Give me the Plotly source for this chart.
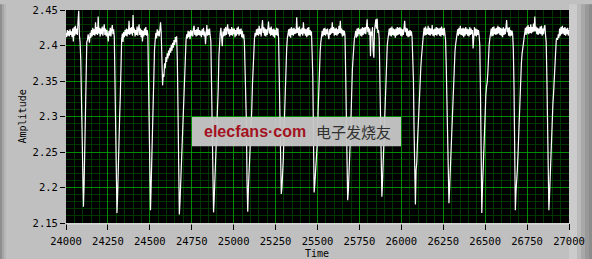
import plotly.graph_objects as go

# ---- waveform: start time, sample spacing, amplitude samples ----
t0 = 24000
dt = 4
amplitude = [
    # 24000-24080
    2.418, 2.412, 2.422, 2.414, 2.421, 2.413, 2.423, 2.415, 2.420, 2.412, 2.424, 2.406, 2.426, 2.414, 2.428,
    2.416, 2.424, 2.415, 2.435, 2.449, 2.414,
    # 24084-24124 dip 1
    2.405, 2.380, 2.330, 2.262, 2.218, 2.173, 2.205, 2.258, 2.310, 2.372, 2.405,
    # 24128-24288
    2.408, 2.416, 2.410, 2.404, 2.418, 2.411, 2.422, 2.413, 2.425, 2.415, 2.423, 2.414, 2.433, 2.416, 2.426,
    2.415, 2.441, 2.417, 2.425, 2.413, 2.424, 2.416, 2.427, 2.414, 2.423, 2.430, 2.415, 2.424, 2.413, 2.422,
    2.415, 2.406, 2.421, 2.414, 2.425, 2.413, 2.422, 2.429, 2.416, 2.423, 2.412,
    # 24292-24332 dip 2
    2.345, 2.273, 2.215, 2.164, 2.190, 2.240, 2.273, 2.300, 2.330, 2.387, 2.409,
    # 24336-24488
    2.417, 2.405, 2.419, 2.412, 2.422, 2.414, 2.424, 2.413, 2.423, 2.416, 2.435, 2.415, 2.425, 2.417, 2.426,
    2.414, 2.443, 2.418, 2.424, 2.413, 2.422, 2.415, 2.427, 2.414, 2.423, 2.430, 2.415, 2.424, 2.412, 2.422,
    2.406, 2.421, 2.413, 2.424, 2.415, 2.426, 2.414, 2.422, 2.416,
    # 24492-24532 dip 3
    2.360, 2.318, 2.240, 2.168, 2.205, 2.250, 2.290, 2.328, 2.368, 2.395, 2.408,
    # 24536-24568
    2.418, 2.410, 2.423, 2.414, 2.421, 2.413, 2.428, 2.433, 2.417,
    # 24572-24660 partial dip and ramp
    2.380, 2.344, 2.360, 2.356, 2.375, 2.368, 2.384, 2.377, 2.389, 2.382, 2.393, 2.386, 2.397, 2.390, 2.401,
    2.393, 2.404, 2.397, 2.408, 2.401, 2.412, 2.405, 2.413,
    # 24664-24716 dip 4
    2.380, 2.310, 2.240, 2.162, 2.180, 2.205, 2.230, 2.265, 2.295, 2.318, 2.350, 2.375, 2.396, 2.408,
    # 24720-24860
    2.416, 2.410, 2.421, 2.412, 2.420, 2.409, 2.422, 2.414, 2.421, 2.413, 2.424, 2.428, 2.415, 2.422, 2.413,
    2.423, 2.414, 2.426, 2.415, 2.422, 2.414, 2.421, 2.412, 2.423, 2.415, 2.425, 2.413, 2.420, 2.402, 2.421,
    2.429, 2.414, 2.423, 2.415, 2.424, 2.414,
    # 24864-24916 dip 5
    2.406, 2.345, 2.280, 2.215, 2.165, 2.185, 2.210, 2.232, 2.255, 2.280, 2.312, 2.340, 2.385, 2.408,
    # 24920-25060
    2.418, 2.425, 2.415, 2.399, 2.420, 2.413, 2.424, 2.414, 2.426, 2.415, 2.423, 2.430, 2.416, 2.424, 2.413,
    2.423, 2.415, 2.426, 2.414, 2.424, 2.416, 2.424, 2.412, 2.422, 2.414, 2.425, 2.416, 2.427, 2.414, 2.423,
    2.416, 2.424, 2.412, 2.421, 2.410, 2.416,
    # 25064-25124 dip 6
    2.405, 2.365, 2.322, 2.290, 2.205, 2.166, 2.200, 2.222, 2.237, 2.255, 2.275, 2.310, 2.345, 2.378, 2.398,
    2.410,
    # 25128-25268
    2.418, 2.413, 2.423, 2.415, 2.424, 2.414, 2.428, 2.416, 2.424, 2.413, 2.425, 2.436, 2.418, 2.426, 2.414,
    2.424, 2.413, 2.423, 2.415, 2.426, 2.434, 2.417, 2.425, 2.414, 2.427, 2.415, 2.423, 2.413, 2.424, 2.411,
    2.422, 2.415, 2.425, 2.414, 2.424, 2.410,
    # 25272-25320 dip 7
    2.350, 2.300, 2.235, 2.191, 2.200, 2.218, 2.240, 2.275, 2.310, 2.345, 2.372, 2.395, 2.410,
    # 25324-25464
    2.416, 2.423, 2.413, 2.424, 2.411, 2.426, 2.415, 2.424, 2.414, 2.425, 2.416, 2.423, 2.417, 2.440, 2.418,
    2.425, 2.414, 2.427, 2.413, 2.423, 2.416, 2.425, 2.414, 2.433, 2.417, 2.424, 2.414, 2.423, 2.412, 2.425,
    2.414, 2.426, 2.415, 2.422, 2.414, 2.420,
    # 25468-25520 dip 8
    2.390, 2.355, 2.270, 2.193, 2.205, 2.218, 2.232, 2.245, 2.268, 2.310, 2.345, 2.372, 2.392, 2.405,
    # 25524-25664
    2.414, 2.421, 2.413, 2.424, 2.415, 2.425, 2.414, 2.423, 2.416, 2.424, 2.414, 2.409, 2.423, 2.415, 2.425,
    2.417, 2.433, 2.418, 2.426, 2.414, 2.424, 2.415, 2.425, 2.414, 2.423, 2.416, 2.428, 2.418, 2.435, 2.417,
    2.424, 2.413, 2.422, 2.414, 2.421, 2.415,
    # 25668-25720 dip 9
    2.360, 2.300, 2.240, 2.182, 2.195, 2.215, 2.237, 2.270, 2.300, 2.345, 2.366, 2.382, 2.400, 2.410,
    # 25724-25864
    2.414, 2.421, 2.411, 2.424, 2.413, 2.425, 2.416, 2.423, 2.414, 2.424, 2.413, 2.426, 2.415, 2.425, 2.417,
    2.426, 2.416, 2.428, 2.437, 2.419, 2.426, 2.415, 2.424, 2.385, 2.420, 2.414, 2.426, 2.392, 2.383, 2.421,
    2.428, 2.437, 2.424, 2.438, 2.418, 2.422,
    # 25868-25920 dip 10
    2.410, 2.360, 2.300, 2.240, 2.187, 2.210, 2.238, 2.270, 2.305, 2.332, 2.360, 2.385, 2.400, 2.409,
    # 25924-26060
    2.416, 2.424, 2.414, 2.425, 2.413, 2.427, 2.415, 2.424, 2.414, 2.423, 2.411, 2.424, 2.414, 2.426, 2.415,
    2.425, 2.416, 2.426, 2.414, 2.424, 2.413, 2.423, 2.415, 2.426, 2.435, 2.419, 2.425, 2.414, 2.424, 2.412,
    2.421, 2.413, 2.422, 2.414, 2.420,
    # 26064-26128 dip 11
    2.412, 2.385, 2.353, 2.280, 2.214, 2.176, 2.225, 2.235, 2.262, 2.285, 2.310, 2.340, 2.355, 2.368, 2.383,
    2.400, 2.410,
    # 26132-26260
    2.417, 2.425, 2.414, 2.427, 2.415, 2.424, 2.416, 2.428, 2.415, 2.425, 2.414, 2.424, 2.416, 2.429, 2.414,
    2.423, 2.413, 2.424, 2.415, 2.426, 2.414, 2.425, 2.416, 2.424, 2.414, 2.425, 2.413, 2.427, 2.415, 2.424,
    2.414, 2.425, 2.416,
    # 26264-26328 dip 12
    2.408, 2.370, 2.310, 2.265, 2.220, 2.178, 2.200, 2.225, 2.255, 2.280, 2.291, 2.330, 2.360, 2.378, 2.392,
    2.402, 2.410,
    # 26332-26464
    2.415, 2.423, 2.414, 2.425, 2.416, 2.428, 2.415, 2.424, 2.414, 2.425, 2.412, 2.424, 2.414, 2.426, 2.416,
    2.424, 2.414, 2.423, 2.413, 2.426, 2.415, 2.424, 2.416, 2.422, 2.396, 2.418, 2.426, 2.414, 2.424, 2.413,
    2.423, 2.415, 2.422, 2.414,
    # 26468-26528 dip 13
    2.400, 2.335, 2.264, 2.164, 2.200, 2.232, 2.258, 2.287, 2.310, 2.330, 2.342, 2.348, 2.362, 2.388, 2.402,
    2.410,
    # 26532-26664
    2.416, 2.424, 2.413, 2.426, 2.414, 2.427, 2.416, 2.424, 2.415, 2.425, 2.416, 2.428, 2.417, 2.426, 2.415,
    2.425, 2.414, 2.424, 2.412, 2.426, 2.415, 2.424, 2.416, 2.428, 2.436, 2.419, 2.425, 2.414, 2.426, 2.413,
    2.422, 2.414, 2.421, 2.416,
    # 26668-26732 dip 14
    2.395, 2.342, 2.270, 2.168, 2.195, 2.207, 2.225, 2.248, 2.275, 2.310, 2.342, 2.362, 2.375, 2.388, 2.398,
    2.406, 2.411,
    # 26736-26860
    2.418, 2.425, 2.415, 2.427, 2.417, 2.429, 2.416, 2.426, 2.418, 2.430, 2.417, 2.426, 2.419, 2.431, 2.420,
    2.441, 2.420, 2.427, 2.416, 2.425, 2.415, 2.424, 2.417, 2.427, 2.416, 2.428, 2.414, 2.424, 2.416, 2.425,
    2.429, 2.415,
    # 26864-26928 dip 15
    2.405, 2.355, 2.300, 2.220, 2.168, 2.190, 2.220, 2.250, 2.275, 2.296, 2.318, 2.333, 2.352, 2.380, 2.400,
    2.408, 2.411,
    # 26932-27000
    2.408, 2.416, 2.411, 2.424, 2.414, 2.426, 2.416, 2.428, 2.417, 2.425, 2.415, 2.426, 2.414, 2.424, 2.416,
    2.425, 2.414, 2.422,
]

x_tick_values = [24000, 24250, 24500, 24750, 25000, 25250, 25500, 25750, 26000, 26250, 26500, 26750, 27000]
x_tick_labels = ["24000", "24250", "24500", "24750", "25000", "25250", "25500", "25750",
                 "26000", "26250", "26500", "26750", "27000"]
y_tick_values = [2.15, 2.2, 2.25, 2.3, 2.35, 2.4, 2.45]
y_tick_labels = ["2.15", "2.2", "2.25", "2.3", "2.35", "2.4", "2.45"]
x_title = "Time"
y_title = "Amplitude"

# ---- figure geometry ----
W, H = 592, 259
L, R, T, B = 66, 23, 4, 36
PW, PH = W - L - R, H - T - B


def px(xp):
    return (xp - L) / PW


def py(yp):
    return (H - B - yp) / PH


MONO = "DejaVu Sans Mono"

fig = go.Figure()
fig.add_trace(go.Scatter(y=amplitude, x0=t0, dx=dt, mode="lines",
                         line=dict(color="#ffffff", width=1.2), hoverinfo="skip"))

shapes = []
# panel edge shading
for x0, x1, c in [(0, 2, "#8e8e8e"), (2, 4, "#a6a6a6"), (4, 6, "#b6b6b6"),
                  (569, 577, "#cbcbcb"), (577, 581, "#b9b9b9"), (581, 585, "#a8a8a8"),
                  (585, 589, "#999999"), (589, 592, "#8c8c8c")]:
    shapes.append(dict(type="rect", xref="paper", yref="paper", x0=px(x0), x1=px(x1),
                       y0=py(H + 2), y1=py(-2), fillcolor=c, line=dict(width=0), layer="below"))
# thin light frame line under the plot area
shapes.append(dict(type="line", xref="paper", yref="paper", x0=0, x1=1, y0=py(H - B + 1), y1=py(H - B + 1),
                   line=dict(color="#e4e4e4", width=1), layer="above"))
# watermark box
shapes.append(dict(type="rect", xref="paper", yref="paper", x0=px(192), x1=px(401),
                   y0=py(144), y1=py(114), fillcolor="rgba(198,198,198,0.96)",
                   line=dict(width=0), layer="above"))

annotations = [
    dict(text="<b>elecfans·com</b>", xref="paper", yref="paper", x=px(255), y=py(129),
         showarrow=False, font=dict(family="Liberation Sans", size=16, color="#a3121e"),
         xanchor="center", yanchor="middle"),
    dict(text="电子发烧友", xref="paper", yref="paper", x=px(353), y=py(129),
         showarrow=False, font=dict(family="Noto Sans CJK SC", size=15, color="#303030"),
         xanchor="center", yanchor="middle"),
    # axis titles
    dict(text=x_title, xref="paper", yref="paper", x=px(317), y=py(254.5),
         showarrow=False, font=dict(family=MONO, size=10, color="#000000"),
         xanchor="center", yanchor="middle"),
    dict(text=y_title, xref="paper", yref="paper", x=px(22.5), y=py(114), textangle=-90,
         showarrow=False, font=dict(family=MONO, size=10, color="#000000"),
         xanchor="center", yanchor="middle"),
]

fig.update_layout(
    width=W, height=H,
    margin=dict(l=L, r=R, t=T, b=B, pad=0),
    paper_bgcolor="#c0c0c0", plot_bgcolor="#000000",
    showlegend=False,
    shapes=shapes, annotations=annotations,
    font=dict(family=MONO, color="#000000", size=10),
)
fig.update_xaxes(
    range=[24000, 27000], tickvals=x_tick_values, ticktext=x_tick_labels,
    ticks="outside", ticklen=6, tickcolor="#000000", tickwidth=1, ticklabelstandoff=2,
    tickfont=dict(family=MONO, size=10.5, color="#000000"), ticklabeloverflow="allow",
    showgrid=True, gridcolor="#008c00", gridwidth=1, zeroline=False,
    minor=dict(dtick=50, tick0=24000, showgrid=True, gridcolor="#003600", gridwidth=1, ticks=""),
    showline=False,
)
fig.update_yaxes(
    range=[2.15, 2.4502], tickvals=y_tick_values, ticktext=y_tick_labels,
    ticks="outside", ticklen=5, tickcolor="#000000", tickwidth=1,
    tickfont=dict(family=MONO, size=10.5, color="#000000"), ticklabeloverflow="allow",
    showgrid=True, gridcolor="#008c00", gridwidth=1, zeroline=False,
    minor=dict(dtick=0.01, tick0=2.15, showgrid=True, gridcolor="#003600", gridwidth=1, ticks=""),
    showline=False,
)

fig.write_html("out.html", config={"displayModeBar": False})
